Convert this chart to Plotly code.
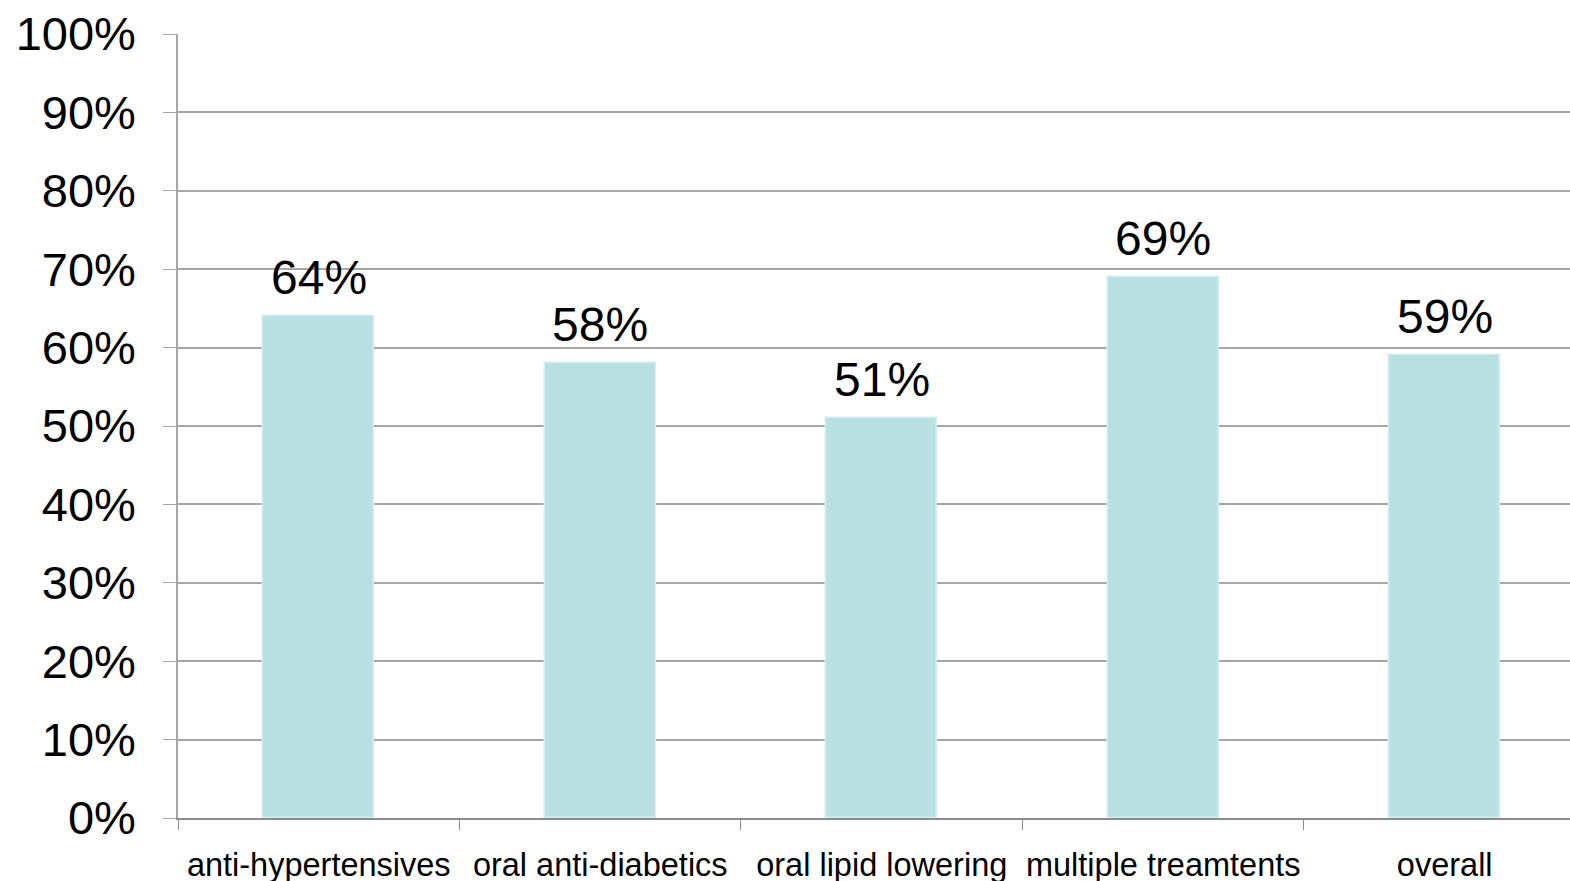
import plotly.graph_objects as go

categories = ["anti-hypertensives", "oral anti-diabetics", "oral lipid lowering",
              "multiple treamtents", "overall"]
shares = [64, 58, 51, 69, 59]
y_ticks = [0, 10, 20, 30, 40, 50, 60, 70, 80, 90, 100]
y_tick_labels = [f"{v}%" for v in y_ticks]

FONT = "Liberation Sans, Arial, sans-serif"

fig = go.Figure(
    go.Bar(
        x=categories,
        y=shares,
        width=0.395,
        marker=dict(color="#B9E0E3", line=dict(color="#D3EEF0", width=1.5)),
        cliponaxis=False,
    )
)

# value labels above each bar
for cat, val in zip(categories, shares):
    fig.add_annotation(
        x=cat, y=val, text=f"{val}%", showarrow=False,
        xanchor="center", yanchor="bottom", yshift=10,
        font=dict(family=FONT, size=48, color="#000000"),
    )

fig.update_layout(
    width=1570,
    height=881,
    margin=dict(l=178, r=0, t=34, b=63, autoexpand=False),
    paper_bgcolor="white",
    plot_bgcolor="white",
    showlegend=False,
    bargap=0,
    font=dict(family=FONT, color="#000000"),
)

fig.update_xaxes(
    type="category",
    range=[-0.5, 4.445],
    tickson="boundaries",
    ticks="outside",
    ticklen=10,
    tickcolor="#8C8C8C",
    showline=True,
    linecolor="#8C8C8C",
    linewidth=1.5,
    showgrid=False,
    tickangle=0,
    automargin=False,
    tickfont=dict(size=32.5),
    ticklabelstandoff=17,
)

fig.update_yaxes(
    range=[0, 100],
    tickvals=y_ticks,
    ticktext=y_tick_labels,
    ticks="outside",
    ticklen=13,
    tickcolor="#A6A6A6",
    showline=True,
    linecolor="#A6A6A6",
    linewidth=1.5,
    showgrid=True,
    gridcolor="#A6A6A6",
    gridwidth=1.5,
    zeroline=False,
    automargin=False,
    tickfont=dict(size=47),
    ticklabelstandoff=18,
)

fig.write_html("out.html")
